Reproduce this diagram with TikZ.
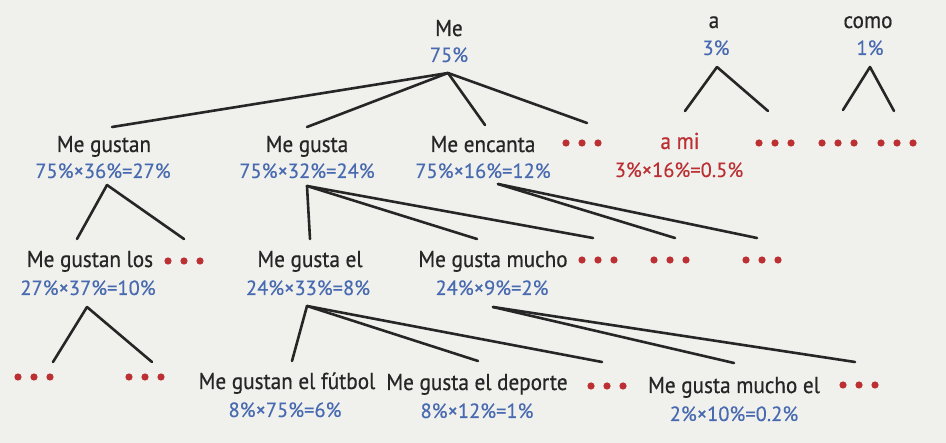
\documentclass[tikz,border=0pt]{standalone}
\usepackage{fontspec}
\setmainfont{PT Sans}
\newfontfamily\titleFont{PT Sans}[FakeStretch=0.92, FakeBold=0.6]
\newfontfamily\probFont{PT Sans}[FakeBold=0.3]
\usepackage{tikz}
\usetikzlibrary{calc}
\newcommand{\titleSize}{23}
\newcommand{\probSize}{20.5}
\newcommand{\lineWidth}{2.6pt}
\newcommand{\dotRadius}{3.6pt}
\newcommand{\dotGap}{16pt}
\definecolor{inkGray}{RGB}{38,38,38}
\definecolor{probBlue}{RGB}{72,106,176}
\definecolor{dotRed}{RGB}{188,48,52}
\definecolor{paper}{RGB}{240,240,237}
\tikzstyle{word}=[inner sep=0, outer sep=0, anchor=base, text=inkGray, font=\titleFont\fontsize{\titleSize}{\titleSize}\selectfont]
\tikzstyle{prob}=[word, text=probBlue, font=\probFont\fontsize{\probSize}{\probSize}\selectfont]
\tikzstyle{redDots}=[draw=none, inner sep=0, minimum width=2*\dotGap+2*\dotRadius+1pt, minimum height=2*\dotRadius+1pt,
  path picture={\foreach \i in {-1,0,1} \fill[dotRed] ([xshift=\i*\dotGap]path picture bounding box.center) circle (\dotRadius);}]
\tikzstyle{edge}=[draw=inkGray, line width=\lineWidth, line cap=round]
\begin{document}
\begin{tikzpicture}[x=1pt, y=1pt]

% Frame
\path[use as bounding box, fill=paper] (0,0) rectangle (946,-443);

% Top words
\node[word] (me) at (449,-36) {Me};
\node[prob] (meVal) at (449,-62) {75\%};
\node[word] (a) at (714,-28) {a};
\node[prob] (aVal) at (716,-55) {3\%};
\node[word] (como) at (868,-28) {como};
\node[prob] (comoVal) at (870,-55) {1\%};

% Second row
\node[word] (gustan) at (104,-152) {Me gustan};
\node[prob] (gustanVal) at (103,-178) {75\%×36\%=27\%};
\node[word] (gusta) at (307,-152) {Me gusta};
\node[prob] (gustaVal) at (307,-178) {75\%×32\%=24\%};
\node[word] (encanta) at (483,-152) {Me encanta};
\node[prob] (encantaVal) at (483,-178) {75\%×16\%=12\%};
\node[redDots] (dotsA) at (582,-143) {};
\node[word, text=dotRed] (aMi) at (680,-149) {a mi};
\node[prob, text=dotRed] (aMiVal) at (679,-177) {3\%×16\%=0.5\%};
\node[redDots] (dotsB) at (775,-143) {};
\node[redDots] (dotsC) at (838,-143) {};
\node[redDots] (dotsD) at (897,-143) {};

% Third row
\node[word] (gustanLos) at (90,-267) {Me gustan los};
\node[prob] (gustanLosVal) at (88,-295) {27\%×37\%=10\%};
\node[redDots] (dotsE) at (184,-261) {};
\node[word] (gustaEl) at (310,-267) {Me gusta el};
\node[prob] (gustaElVal) at (308,-295) {24\%×33\%=8\%};
\node[word] (gustaMucho) at (493,-267) {Me gusta mucho};
\node[prob] (gustaMuchoVal) at (492,-295) {24\%×9\%=2\%};
\node[redDots] (dotsF) at (598,-260) {};
\node[redDots] (dotsG) at (670,-260) {};
\node[redDots] (dotsH) at (762,-260) {};

% Bottom row
\node[redDots] (dotsI) at (34,-377) {};
\node[redDots] (dotsJ) at (145,-377) {};
\node[word] (futbol) at (287,-389) {Me gustan el fútbol};
\node[prob] (futbolVal) at (285,-417) {8\%×75\%=6\%};
\node[word] (deporte) at (477,-390) {Me gusta el deporte};
\node[prob] (deporteVal) at (477,-418) {8\%×12\%=1\%};
\node[redDots] (dotsK) at (607,-386) {};
\node[word] (muchoEl) at (734,-393) {Me gusta mucho el};
\node[prob] (muchoElVal) at (734,-421) {2\%×10\%=0.2\%};
\node[redDots] (dotsL) at (859,-385) {};

% Branch tips
\coordinate (meTip) at ([xshift=-1pt, yshift=-11pt]meVal.base);
\coordinate (aTip) at ([xshift=1pt, yshift=-12pt]aVal.base);
\coordinate (comoTip) at ([yshift=-12pt]comoVal.base);
\coordinate (gustanTip) at ([xshift=4pt, yshift=-7pt]gustanVal.base);
\coordinate (gustaTip) at ([yshift=-8pt]gustaVal.base);
\coordinate (encantaTip) at ([xshift=15pt, yshift=-6pt]encantaVal.base);
\coordinate (gustanLosTip) at ([xshift=-1pt, yshift=-12pt]gustanLosVal.base);
\coordinate (gustaElTip) at ([xshift=-1pt, yshift=-11pt]gustaElVal.base);
\coordinate (gustaMuchoTip) at ([xshift=1pt, yshift=-12pt]gustaMuchoVal.base);

% Branches
\draw[edge] (meTip) -- ([xshift=8pt, yshift=25pt]gustan.base);
\draw[edge] (meTip) -- ([yshift=25pt]gusta.base);
\draw[edge] (meTip) -- ([xshift=2pt, yshift=27pt]encanta.base);
\draw[edge] (meTip) -- ([xshift=5pt, yshift=20pt]dotsA.center);
\draw[edge] (aTip) -- ([xshift=5pt, yshift=38pt]aMi.base);
\draw[edge] (aTip) -- ([xshift=-7pt, yshift=32pt]dotsB.center);
\draw[edge] (comoTip) -- ([xshift=5pt, yshift=33pt]dotsC.center);
\draw[edge] (comoTip) -- ([xshift=-3pt, yshift=32pt]dotsD.center);
\draw[edge] (gustanTip) -- ([xshift=-13pt, yshift=28pt]gustanLos.base);
\draw[edge] (gustanTip) -- ([yshift=22pt]dotsE.center);
\draw[edge] (gustaTip) -- ([yshift=28pt]gustaEl.base);
\draw[edge] (gustaTip) -- ([xshift=-16pt, yshift=28pt]gustaMucho.base);
\draw[edge] (gustaTip) -- ([xshift=-5pt, yshift=22pt]dotsF.center);
\draw[edge] (encantaTip) -- ([xshift=5pt, yshift=22pt]dotsG.center);
\draw[edge] (encantaTip) -- ([xshift=-5pt, yshift=22pt]dotsH.center);
\draw[edge] (gustanLosTip) -- ([xshift=19pt, yshift=15pt]dotsI.center);
\draw[edge] (gustanLosTip) -- ([xshift=7pt, yshift=15pt]dotsJ.center);
\draw[edge] (gustaElTip) -- ([xshift=5pt, yshift=28pt]futbol.base);
\draw[edge] (gustaElTip) -- ([xshift=1pt, yshift=29pt]deporte.base);
\draw[edge] (gustaElTip) -- ([xshift=-5pt, yshift=24pt]dotsK.center);
\draw[edge] (gustaMuchoTip) -- ([yshift=30pt]muchoEl.base);
\draw[edge] (gustaMuchoTip) -- ([xshift=-4pt, yshift=23pt]dotsL.center);

\end{tikzpicture}
\end{document}
